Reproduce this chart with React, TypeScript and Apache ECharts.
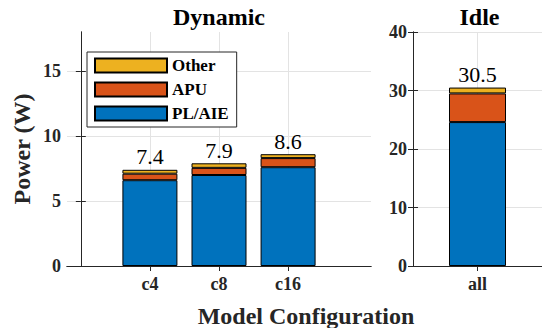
import React, { useEffect, useRef } from "react";
import * as echarts from "echarts";

const categories = ["c4", "c8", "c16"];
const categoryPositions = [1, 2, 3];
const plAie = [6.6, 7.0, 7.6];
const apu = [0.5, 0.55, 0.7];
const other = [0.3, 0.35, 0.3];
const totals = [7.4, 7.9, 8.6];

const idleCategories = ["all"];
const idlePositions = [1];
const idlePlAie = [24.6];
const idleApu = [4.9];
const idleOther = [1.0];
const idleTotals = [30.5];

const dynTicks = [0, 5, 10, 15];
const idleTicks = [0, 10, 20, 30, 40];

const FONT = "'Liberation Serif', serif";
const AXIS = "#262626";
const GRIDC = "#e3e3e3";
const C_PL = "#0072BD";
const C_APU = "#D95319";
const C_OTH = "#EDB120";

export default function App() {
  const ref = useRef<HTMLDivElement>(null);
  useEffect(() => {
    if (!ref.current) return;
    const chart = echarts.init(ref.current, undefined, { renderer: "svg" });

    const axisLine = { show: true, lineStyle: { color: AXIS, width: 1 } };
    const tickStyle = { show: true, inside: true, length: 5, lineStyle: { color: AXIS, width: 1 } };
    const labelStyle = { color: AXIS, fontFamily: FONT, fontWeight: "bold" as const, fontSize: 18 };

    const mkX = (grid: number, min: number, max: number, pos: number[], names: string[], top: boolean) => ({
      type: "value",
      gridIndex: grid,
      min,
      max,
      position: top ? "top" : "bottom",
      axisLine,
      axisTick: { ...tickStyle, customValues: pos },
      axisLabel: top
        ? { show: false }
        : {
            ...labelStyle,
            margin: 9,
            customValues: pos,
            formatter: (v: number) => names[pos.indexOf(v)] ?? "",
          },
      splitLine: top ? { show: false } : { show: true, lineStyle: { color: GRIDC, width: 1 } },
    });

    const mkY = (grid: number, max: number, interval: number, ticks: number[], right: boolean) => ({
      type: "value",
      gridIndex: grid,
      min: 0,
      max,
      interval,
      position: right ? "right" : "left",
      axisLine,
      axisTick: { ...tickStyle, customValues: ticks },
      axisLabel: right ? { show: false } : { ...labelStyle, margin: 6, customValues: ticks },
      splitLine: right ? { show: false } : { show: true, lineStyle: { color: GRIDC, width: 1 } },
    });

    const barItem = (color: string) => ({ color, borderColor: "#000", borderWidth: 1 });

    const mkSeries = (
      name: string,
      color: string,
      pos: number[],
      vals: number[],
      xi: number,
      yi: number,
      stack: string,
      width: number,
      tot?: number[]
    ) => ({
      type: "bar",
      name,
      stack,
      xAxisIndex: xi,
      yAxisIndex: yi,
      barWidth: width,
      itemStyle: barItem(color),
      // value first so that stacking happens on the value dimension
      encode: { x: 1, y: 0 },
      data: pos.map((p, i) => [vals[i], p]),
      label: tot
        ? {
            show: true,
            position: "top",
            distance: 2,
            formatter: (p: any) => tot[p.dataIndex].toFixed(1),
            fontFamily: FONT,
            fontSize: 22,
            color: "#000",
          }
        : { show: false },
    });

    chart.setOption({
      animation: false,
      backgroundColor: "#fff",
      textStyle: { fontFamily: FONT },
      grid: [
        { left: 67, top: 32, width: 304, height: 234 },
        { left: 413, top: 32, width: 133, height: 234 },
      ],
      xAxis: [
        mkX(0, -0.2, 4.2, categoryPositions, categories, false),
        mkX(0, -0.2, 4.2, categoryPositions, categories, true),
        mkX(1, 0, 2, idlePositions, idleCategories, false),
        mkX(1, 0, 2, idlePositions, idleCategories, true),
      ],
      yAxis: [
        mkY(0, 18, 5, dynTicks, false),
        mkY(0, 18, 5, dynTicks, true),
        mkY(1, 40, 10, idleTicks, false),
        mkY(1, 40, 10, idleTicks, true),
      ],
      legend: {
        left: 87,
        top: 52,
        orient: "vertical",
        data: ["Other", "APU", "PL/AIE"],
        icon: "rect",
        itemWidth: 72,
        itemHeight: 14,
        itemGap: 7,
        padding: [5, 8, 5, 7],
        borderColor: AXIS,
        borderWidth: 1,
        backgroundColor: "#fff",
        textStyle: { fontFamily: FONT, fontWeight: "bold", fontSize: 17, color: "#000", lineHeight: 14 },
      },
      graphic: [
        {
          type: "text",
          x: 219,
          y: 17,
          style: { text: "Dynamic", fontFamily: FONT, fontWeight: "bold", fontSize: 24, fill: "#000", align: "center", verticalAlign: "middle" },
        },
        {
          type: "text",
          x: 479.5,
          y: 17,
          style: { text: "Idle", fontFamily: FONT, fontWeight: "bold", fontSize: 24, fill: "#000", align: "center", verticalAlign: "middle" },
        },
        {
          type: "text",
          x: 22,
          y: 149,
          rotation: Math.PI / 2,
          style: { text: "Power (W)", fontFamily: FONT, fontWeight: "bold", fontSize: 24, fill: AXIS, align: "center", verticalAlign: "middle" },
        },
        {
          type: "text",
          x: 306,
          y: 316,
          style: { text: "Model Configuration", fontFamily: FONT, fontWeight: "bold", fontSize: 24, fill: AXIS, align: "center", verticalAlign: "middle" },
        },
      ],
      series: [
        mkSeries("PL/AIE", C_PL, categoryPositions, plAie, 0, 0, "dyn", 55),
        mkSeries("APU", C_APU, categoryPositions, apu, 0, 0, "dyn", 55),
        mkSeries("Other", C_OTH, categoryPositions, other, 0, 0, "dyn", 55, totals),
        mkSeries("PL/AIE", C_PL, idlePositions, idlePlAie, 2, 2, "idle", 57),
        mkSeries("APU", C_APU, idlePositions, idleApu, 2, 2, "idle", 57),
        mkSeries("Other", C_OTH, idlePositions, idleOther, 2, 2, "idle", 57, idleTotals),
      ],
    });
    return () => chart.dispose();
  }, []);
  return <div ref={ref} style={{ position: "absolute", left: 0, top: 0, width: 542, height: 328 }} />;
}
